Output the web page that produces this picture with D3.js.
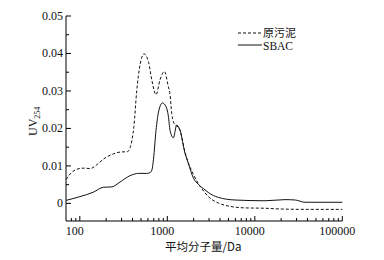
<!DOCTYPE html>
<html>
<head>
<meta charset="utf-8">
<script src="https://cdn.jsdelivr.net/npm/d3@7"></script>
<style>
  body { margin: 0; background: #fff; }
  text { font-family: "Liberation Serif", "Times New Roman", serif; font-size: 12px; fill: #111; }
  .cjk { font-family: "Noto Sans CJK SC", sans-serif; font-size: 11px; }
</style>
</head>
<body>
<svg id="chart" width="384" height="260"></svg>
<script>
// 原污泥 (dashed)
const massSludge = [69.6, 77.3, 92.2, 110, 131, 160, 186, 241, 290, 350, 375, 395, 415, 447, 488, 542, 607,
  664, 723, 743, 826, 924, 1026, 1074, 1123, 1172, 1225, 1281, 1397, 1593, 1738, 1983, 2260, 2698, 2943,
  3828, 4562, 7727, 13080, 20000, 40000, 100000];
const uvSludge = [0.0064, 0.0078, 0.0091, 0.0094, 0.0093, 0.0105, 0.0118, 0.0132, 0.0137, 0.0138, 0.0148,
  0.0170, 0.0205, 0.0300, 0.0370, 0.0399, 0.0379, 0.0330, 0.0294, 0.0290, 0.0330, 0.0352, 0.0312, 0.0290,
  0.0240, 0.0218, 0.0210, 0.0207, 0.0195, 0.0136, 0.0108, 0.0078, 0.0053, 0.0028, 0.0018, 0.0001, -0.0005,
  -0.0012, -0.0013, -0.0015, -0.0016, -0.0016];

// SBAC (solid)
const massSBAC = [69.6, 100, 143, 186, 232, 288, 375, 470, 581, 634, 668, 695, 743, 793, 881, 966, 1026,
  1074, 1172, 1281, 1397, 1593, 1738, 1983, 2260, 2698, 2943, 3828, 5940, 13080, 22170, 29000, 37500, 100000];
const uvSBAC = [0.0008, 0.0018, 0.0030, 0.0043, 0.0044, 0.0057, 0.0074, 0.0080, 0.0080, 0.0082, 0.0090,
  0.0118, 0.0195, 0.0244, 0.0268, 0.0258, 0.0234, 0.0195, 0.0175, 0.0209, 0.0195, 0.0134, 0.0107, 0.0068,
  0.0051, 0.0036, 0.0029, 0.0016, 0.0009, 0.0007, 0.0010, 0.0009, 0.0003, 0.0003];

const xTicks = [100, 1000, 10000, 100000];
const yTicks = [0, 0.01, 0.02, 0.03, 0.04, 0.05];
const legendLabels = ["原污泥", "SBAC"];

const svg = d3.select("#chart");
let padL = 66, padR = 342.3, padT = 16, padB = 221;

let x = d3.scaleLog().domain([69.5, 100000]).range([padL, padR]);
let y = d3.scaleLinear().domain([-0.0047, 0.05]).range([padB, padT]);

// minor ticks
let xMinor = [];
for (let dec = 10; dec < 100000; dec *= 10)
  for (let k = 2; k <= 9; k++) if (dec * k > 75) xMinor.push(dec * k);
let yMinor = d3.range(0.005, 0.05, 0.01);

const g = svg.append("g");

// axis lines
g.append("line").attr("x1", padL).attr("x2", padL).attr("y1", padT).attr("y2", padB)
  .attr("stroke", "#000").attr("stroke-width", 1);
g.append("line").attr("x1", padL).attr("x2", padR).attr("y1", padB).attr("y2", padB)
  .attr("stroke", "#000").attr("stroke-width", 1);

// x ticks (inside)
g.selectAll(".xmaj").data(xTicks).enter().append("line")
  .attr("x1", d => x(d)).attr("x2", d => x(d)).attr("y1", padB).attr("y2", padB - 5)
  .attr("stroke", "#000");
g.selectAll(".xmin").data(xMinor).enter().append("line")
  .attr("x1", d => x(d)).attr("x2", d => x(d)).attr("y1", padB).attr("y2", padB - 3)
  .attr("stroke", "#000");
g.selectAll(".xlab").data(xTicks).enter().append("text")
  .attr("x", d => x(d) - 5).attr("y", 234.5).attr("text-anchor", "middle")
  .text(d => d);

// y ticks (inside)
g.selectAll(".ymaj").data(yTicks).enter().append("line")
  .attr("x1", padL).attr("x2", padL + 5).attr("y1", d => y(d)).attr("y2", d => y(d))
  .attr("stroke", "#000");
g.selectAll(".ymin").data(yMinor).enter().append("line")
  .attr("x1", padL).attr("x2", padL + 3).attr("y1", d => y(d)).attr("y2", d => y(d))
  .attr("stroke", "#000");
g.selectAll(".ylab").data(yTicks).enter().append("text")
  .attr("x", padL - 3).attr("y", d => y(d) + 4).attr("text-anchor", "end")
  .text(d => d === 0 ? "0" : d.toFixed(2));

// curves
let line = d3.line().x(d => x(d[0])).y(d => y(d[1])).curve(d3.curveMonotoneX);
let sludge = massSludge.map((m, i) => [m, uvSludge[i]]);
let sbac = massSBAC.map((m, i) => [m, uvSBAC[i]]);

g.append("path").attr("d", line(sludge)).attr("fill", "none")
  .attr("stroke", "#111").attr("stroke-width", 1).attr("stroke-dasharray", "3,2");
g.append("path").attr("d", line(sbac)).attr("fill", "none")
  .attr("stroke", "#111").attr("stroke-width", 1);

// legend
let lg = svg.append("g");
lg.append("line").attr("x1", 238).attr("x2", 262).attr("y1", 33).attr("y2", 33)
  .attr("stroke", "#111").attr("stroke-dasharray", "3,2");
lg.append("text").attr("class", "cjk").attr("x", 263).attr("y", 36.5).text(legendLabels[0]);
lg.append("line").attr("x1", 238).attr("x2", 262).attr("y1", 45).attr("y2", 45)
  .attr("stroke", "#111");
lg.append("text").attr("x", 263).attr("y", 49.5).style("font-size", "11.5px").text(legendLabels[1]);

// axis titles
svg.append("text").attr("class", "cjk").attr("x", 165).attr("y", 251).style("font-size", "11.5px")
  .text("平均分子量/Da");
let yt = svg.append("text").attr("transform", "translate(37,136) rotate(-90)");
yt.append("tspan").text("UV");
yt.append("tspan").attr("dy", 3).attr("font-size", "8px").text("254");
</script>
</body>
</html>
